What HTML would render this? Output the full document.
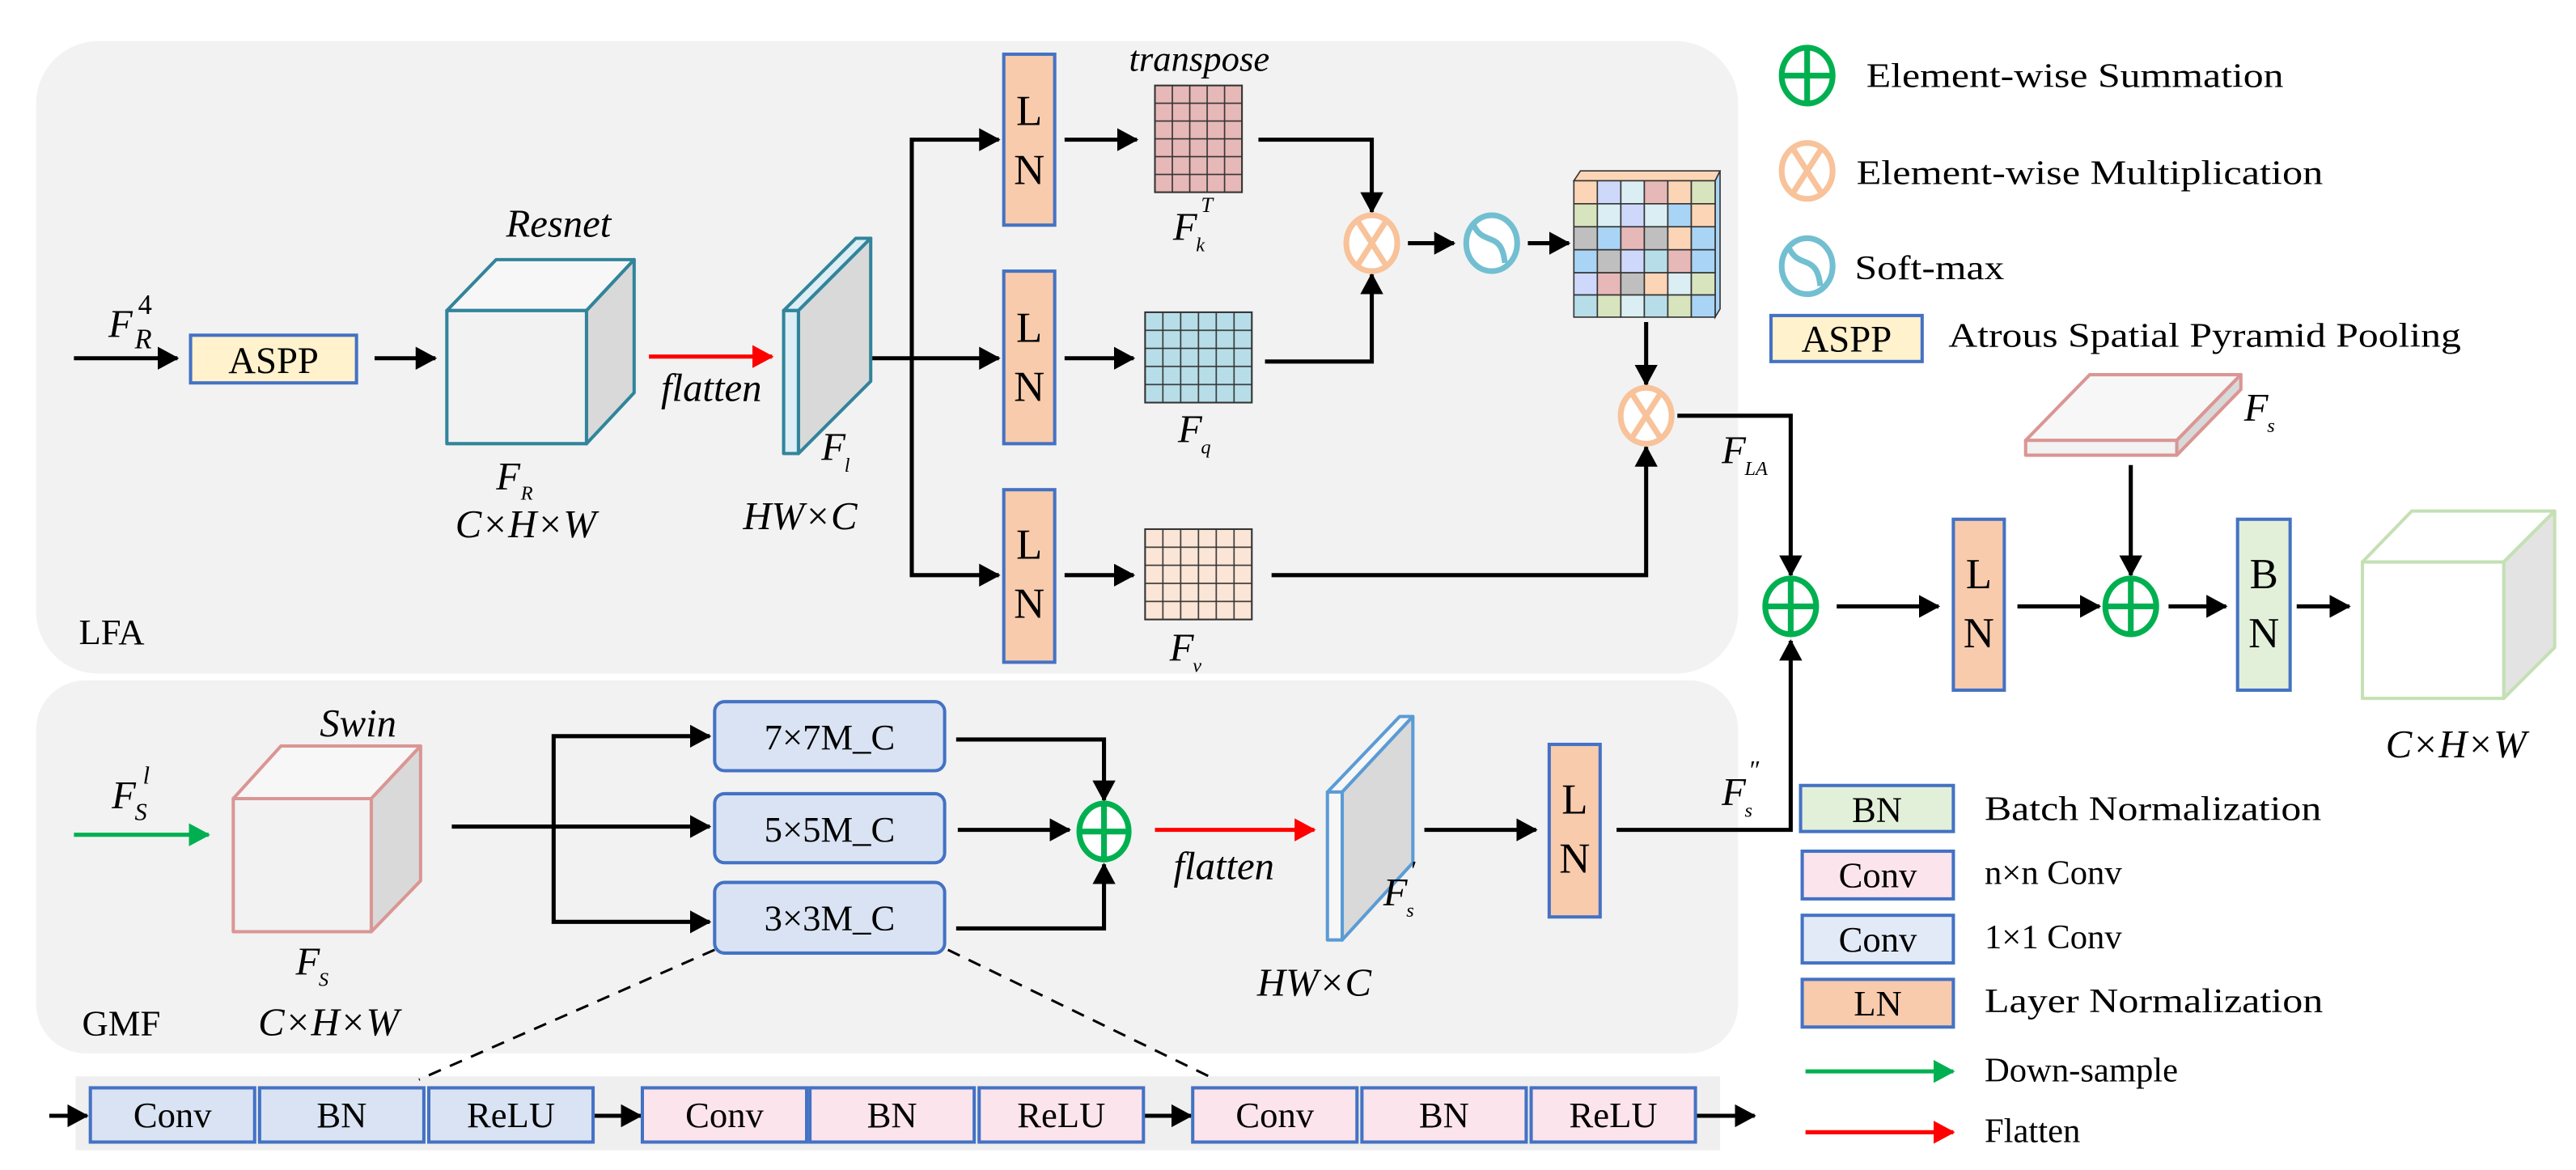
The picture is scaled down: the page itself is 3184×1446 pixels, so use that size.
<!DOCTYPE html>
<html><head><meta charset="utf-8"><style>
html,body{margin:0;padding:0;background:#fff;}
svg{display:block;}
text{font-family:"Liberation Serif","DejaVu Serif",serif;fill:#000;}
.it{font-style:italic;}
</style></head><body>
<svg width="3184" height="1446" viewBox="0 0 1568 712" preserveAspectRatio="none" xmlns="http://www.w3.org/2000/svg">
<defs>
<marker id="ab" markerUnits="userSpaceOnUse" markerWidth="14" markerHeight="14" refX="12" refY="7" orient="auto"><path d="M0,0 L13,7 L0,14 z" fill="#000"/></marker>
<marker id="ar" markerUnits="userSpaceOnUse" markerWidth="14" markerHeight="14" refX="12" refY="7" orient="auto"><path d="M0,0 L13,7 L0,14 z" fill="#ff0000"/></marker>
<marker id="ag" markerUnits="userSpaceOnUse" markerWidth="14" markerHeight="14" refX="12" refY="7" orient="auto"><path d="M0,0 L13,7 L0,14 z" fill="#00b050"/></marker>
<pattern id="gk" patternUnits="userSpaceOnUse" x="703" y="52" width="10.6" height="10.83"><rect width="10.6" height="10.83" fill="#e6b8b7" stroke="#333" stroke-width="0.8"/></pattern>
<pattern id="gq" patternUnits="userSpaceOnUse" x="697" y="190" width="10.83" height="11"><rect width="10.83" height="11" fill="#b7dee8" stroke="#333" stroke-width="0.8"/></pattern>
<pattern id="gv" patternUnits="userSpaceOnUse" x="697" y="322" width="10.83" height="11"><rect width="10.83" height="11" fill="#fbe5d6" stroke="#333" stroke-width="0.8"/></pattern>
</defs>

<rect x="22" y="25" width="1036" height="385" rx="38" fill="#f2f2f2"/>
<rect x="22" y="414" width="1036" height="227" rx="30" fill="#f2f2f2"/>
<rect x="46" y="655" width="1001" height="45" fill="#efefef"/>

<g stroke="#000" stroke-width="2.5" fill="none">
<line x1="45" y1="218" x2="108" y2="218" marker-end="url(#ab)"/>
<line x1="228" y1="218" x2="265" y2="218" marker-end="url(#ab)"/>
<line x1="512" y1="218" x2="608" y2="218" marker-end="url(#ab)"/>
<polyline points="555,218 555,85 608,85" marker-end="url(#ab)"/>
<polyline points="555,218 555,350 608,350" marker-end="url(#ab)"/>
<line x1="648" y1="85" x2="692" y2="85" marker-end="url(#ab)"/>
<line x1="648" y1="218" x2="690" y2="218" marker-end="url(#ab)"/>
<line x1="648" y1="350" x2="690" y2="350" marker-end="url(#ab)"/>
<polyline points="766,85 835,85 835,129" marker-end="url(#ab)"/>
<polyline points="770,220 835,220 835,167" marker-end="url(#ab)"/>
<line x1="857" y1="148" x2="885" y2="148" marker-end="url(#ab)"/>
<line x1="930" y1="148" x2="955" y2="148" marker-end="url(#ab)"/>
<line x1="1002" y1="196" x2="1002" y2="234" marker-end="url(#ab)"/>
<polyline points="774,350 1002,350 1002,272" marker-end="url(#ab)"/>
<polyline points="1021,253 1090,253 1090,350" marker-end="url(#ab)"/>
<line x1="1118" y1="369" x2="1180" y2="369" marker-end="url(#ab)"/>
<line x1="1228" y1="369" x2="1278" y2="369" marker-end="url(#ab)"/>
<line x1="1297" y1="283" x2="1297" y2="350" marker-end="url(#ab)"/>
<line x1="1320" y1="369" x2="1355" y2="369" marker-end="url(#ab)"/>
<line x1="1398" y1="369" x2="1430" y2="369" marker-end="url(#ab)"/>
<polyline points="984,505 1090,505 1090,390" marker-end="url(#ab)"/>
<line x1="275" y1="503" x2="432" y2="503" marker-end="url(#ab)"/>
<polyline points="337,503 337,448 432,448" marker-end="url(#ab)"/>
<polyline points="337,503 337,561 432,561" marker-end="url(#ab)"/>
<polyline points="582,450 672,450 672,487" marker-end="url(#ab)"/>
<line x1="583" y1="505" x2="651" y2="505" marker-end="url(#ab)"/>
<polyline points="582,565 672,565 672,526" marker-end="url(#ab)"/>
<line x1="867" y1="505" x2="935" y2="505" marker-end="url(#ab)"/>
<line x1="30" y1="679" x2="53" y2="679" marker-end="url(#ab)"/>
<line x1="361" y1="679" x2="390" y2="679" marker-end="url(#ab)"/>
<line x1="696" y1="679" x2="725" y2="679" marker-end="url(#ab)"/>
<line x1="1032" y1="679" x2="1068" y2="679" marker-end="url(#ab)"/>
</g>
<line x1="395" y1="217" x2="470" y2="217" stroke="#ff0000" stroke-width="2.5" marker-end="url(#ar)"/>
<line x1="703" y1="505" x2="800" y2="505" stroke="#ff0000" stroke-width="2.5" marker-end="url(#ar)"/>
<line x1="45" y1="508" x2="127" y2="508" stroke="#00b050" stroke-width="2.5" marker-end="url(#ag)"/>
<line x1="1099" y1="652" x2="1189" y2="652" stroke="#00b050" stroke-width="2.5" marker-end="url(#ag)"/>
<line x1="1099" y1="689" x2="1189" y2="689" stroke="#ff0000" stroke-width="2.5" marker-end="url(#ar)"/>
<line x1="435" y1="578" x2="255" y2="657" stroke="#000" stroke-width="1.5" stroke-dasharray="8,6"/>
<line x1="577" y1="578" x2="740" y2="657" stroke="#000" stroke-width="1.5" stroke-dasharray="8,6"/>

<rect x="116" y="204" width="101" height="29" fill="#fff2cc" stroke="#4472c4" stroke-width="2"/>
<text x="166.5" y="227" font-size="23" text-anchor="middle">ASPP</text>
<text x="66" y="205" font-size="24" class="it">F</text><text x="82" y="212" font-size="17" class="it">R</text><text x="84" y="191" font-size="17">4</text>

<g stroke="#31849b" stroke-width="2" stroke-linejoin="round">
<polygon points="272,189 302,158 386,158 357,189" fill="#f7f7f7"/>
<polygon points="357,189 386,158 386,239 357,270" fill="#d9d9d9"/>
<rect x="272" y="189" width="85" height="81" fill="#f2f2f2"/>
</g>
<text x="340" y="144" font-size="24" class="it" text-anchor="middle">Resnet</text>
<text x="302" y="298" font-size="24" class="it">F</text><text x="317" y="304" font-size="12" class="it">R</text>
<text x="320" y="327" font-size="24" class="it" text-anchor="middle">C×H×W</text>
<text x="433" y="244" font-size="24" class="it" text-anchor="middle">flatten</text>

<g stroke="#31849b" stroke-width="2" stroke-linejoin="round">
<polygon points="477,189 521,145 530,145 486,189" fill="#ddeef5"/>
<polygon points="486,189 530,145 530,232 486,276" fill="#d9d9d9"/>
<rect x="477" y="189" width="9" height="87" fill="#ddeef5"/>
</g>
<text x="500" y="280" font-size="24" class="it">F</text><text x="514" y="287" font-size="12" class="it">l</text>
<text x="487" y="322" font-size="24" class="it" text-anchor="middle">HW×C</text>

<g fill="#f8cbad" stroke="#4472c4" stroke-width="2">
<rect x="611" y="33" width="31" height="104"/>
<rect x="611" y="165" width="31" height="105"/>
<rect x="611" y="298" width="31" height="105"/>
<rect x="1189" y="316" width="31" height="104"/>
<rect x="943" y="453" width="31" height="105"/>
</g>
<rect x="1362" y="316" width="32" height="104" fill="#e2f0d9" stroke="#4472c4" stroke-width="2"/>
<g font-size="26" text-anchor="middle">
<text x="626.5" y="76">L</text><text x="626.5" y="112">N</text>
<text x="626.5" y="208">L</text><text x="626.5" y="244">N</text>
<text x="626.5" y="340">L</text><text x="626.5" y="376">N</text>
<text x="1204.5" y="358">L</text><text x="1204.5" y="394">N</text>
<text x="1378" y="358">B</text><text x="1378" y="394">N</text>
<text x="958.5" y="495">L</text><text x="958.5" y="531">N</text>
</g>

<rect x="703" y="52" width="53" height="65" fill="url(#gk)" stroke="#333" stroke-width="1"/>
<rect x="697" y="190" width="65" height="55" fill="url(#gq)" stroke="#333" stroke-width="1"/>
<rect x="697" y="322" width="65" height="55" fill="url(#gv)" stroke="#333" stroke-width="1"/>
<text x="730" y="43" font-size="22" class="it" text-anchor="middle">transpose</text>
<text x="714" y="146" font-size="24" class="it">F</text><text x="728" y="153" font-size="12" class="it">k</text><text x="731" y="129" font-size="13" class="it">T</text>
<text x="717" y="269" font-size="24" class="it">F</text><text x="731" y="276" font-size="12" class="it">q</text>
<text x="712" y="402" font-size="24" class="it">F</text><text x="726" y="409" font-size="12" class="it">v</text>

<g stroke="#333" stroke-width="0.8">
<polygon points="958,110 962,104 1047,104 1044,110" fill="#fbd5b5"/>
<polygon points="1044,110 1047,104 1047,188 1044,193" fill="#a9d4f5"/>
<rect x="958" y="110" width="14.3" height="14" fill="#fbd5b5"/><rect x="972.3" y="110" width="14.3" height="14" fill="#cdd8fb"/><rect x="986.6" y="110" width="14.3" height="14" fill="#daeef3"/><rect x="1000.9" y="110" width="14.3" height="14" fill="#e6b8b7"/><rect x="1015.2" y="110" width="14.3" height="14" fill="#fbd5b5"/><rect x="1029.5" y="110" width="14.5" height="14" fill="#d7e4bd"/>
<rect x="958" y="124" width="14.3" height="14" fill="#d7e4bd"/><rect x="972.3" y="124" width="14.3" height="14" fill="#daeef3"/><rect x="986.6" y="124" width="14.3" height="14" fill="#cdd8fb"/><rect x="1000.9" y="124" width="14.3" height="14" fill="#daeef3"/><rect x="1015.2" y="124" width="14.3" height="14" fill="#a9d4f5"/><rect x="1029.5" y="124" width="14.5" height="14" fill="#fbd5b5"/>
<rect x="958" y="138" width="14.3" height="14" fill="#bfbfbf"/><rect x="972.3" y="138" width="14.3" height="14" fill="#a9d4f5"/><rect x="986.6" y="138" width="14.3" height="14" fill="#e6b8b7"/><rect x="1000.9" y="138" width="14.3" height="14" fill="#bfbfbf"/><rect x="1015.2" y="138" width="14.3" height="14" fill="#fbd5b5"/><rect x="1029.5" y="138" width="14.5" height="14" fill="#a9d4f5"/>
<rect x="958" y="152" width="14.3" height="14" fill="#a9d4f5"/><rect x="972.3" y="152" width="14.3" height="14" fill="#bfbfbf"/><rect x="986.6" y="152" width="14.3" height="14" fill="#cdd8fb"/><rect x="1000.9" y="152" width="14.3" height="14" fill="#b7dee8"/><rect x="1015.2" y="152" width="14.3" height="14" fill="#e6b8b7"/><rect x="1029.5" y="152" width="14.5" height="14" fill="#a9d4f5"/>
<rect x="958" y="166" width="14.3" height="13.5" fill="#cdd8fb"/><rect x="972.3" y="166" width="14.3" height="13.5" fill="#e6b8b7"/><rect x="986.6" y="166" width="14.3" height="13.5" fill="#bfbfbf"/><rect x="1000.9" y="166" width="14.3" height="13.5" fill="#fbd5b5"/><rect x="1015.2" y="166" width="14.3" height="13.5" fill="#daeef3"/><rect x="1029.5" y="166" width="14.5" height="13.5" fill="#d7e4bd"/>
<rect x="958" y="179.5" width="14.3" height="13.5" fill="#b7dee8"/><rect x="972.3" y="179.5" width="14.3" height="13.5" fill="#d7e4bd"/><rect x="986.6" y="179.5" width="14.3" height="13.5" fill="#daeef3"/><rect x="1000.9" y="179.5" width="14.3" height="13.5" fill="#b7dee8"/><rect x="1015.2" y="179.5" width="14.3" height="13.5" fill="#d7e4bd"/><rect x="1029.5" y="179.5" width="14.5" height="13.5" fill="#a9d4f5"/>
</g>

<g stroke-width="3.5" fill="#fff">
<g stroke="#f8c29a">
<ellipse cx="835" cy="148" rx="15.5" ry="17"/><line x1="826" y1="134" x2="844" y2="162"/><line x1="844" y1="134" x2="826" y2="162"/>
<ellipse cx="1002" cy="253" rx="15.5" ry="17"/><line x1="993" y1="239" x2="1011" y2="267"/><line x1="1011" y1="239" x2="993" y2="267"/>
<ellipse cx="1100" cy="104" rx="15.5" ry="17"/><line x1="1091" y1="90" x2="1109" y2="118"/><line x1="1109" y1="90" x2="1091" y2="118"/>
</g>
<g stroke="#72bfd1">
<ellipse cx="908" cy="148" rx="15.5" ry="17"/><path d="M897,137 C903,150 914,140 916,160" fill="none"/>
<ellipse cx="1100" cy="162" rx="15.5" ry="17"/><path d="M1089,151 C1095,164 1106,154 1108,174" fill="none"/>
</g>
<g stroke="#00b050">
<ellipse cx="1090" cy="369" rx="15.5" ry="17"/><line x1="1090" y1="352" x2="1090" y2="386"/><line x1="1074.5" y1="369" x2="1105.5" y2="369"/>
<ellipse cx="1297" cy="369" rx="15.5" ry="17"/><line x1="1297" y1="352" x2="1297" y2="386"/><line x1="1281.5" y1="369" x2="1312.5" y2="369"/>
<ellipse cx="672" cy="506" rx="15" ry="17"/><line x1="672" y1="489" x2="672" y2="523"/><line x1="657" y1="506" x2="687" y2="506"/>
<ellipse cx="1100" cy="46" rx="15.5" ry="17"/><line x1="1100" y1="29" x2="1100" y2="63"/><line x1="1084.5" y1="46" x2="1115.5" y2="46"/>
</g>
</g>

<text x="1048" y="282" font-size="24" class="it">F</text><text x="1062" y="289" font-size="12" class="it">LA</text>

<g stroke="#da9694" stroke-width="2" stroke-linejoin="round">
<polygon points="1233,268 1272,228 1364,228 1325,268" fill="#f7f7f7"/>
<polygon points="1325,268 1364,228 1364,237 1325,277" fill="#d9d9d9"/>
<rect x="1233" y="268" width="92" height="9" fill="#f2f2f2"/>
</g>
<text x="1366" y="256" font-size="24" class="it">F</text><text x="1380" y="263" font-size="12" class="it">s</text>

<g stroke="#c5e0b4" stroke-width="2" stroke-linejoin="round">
<polygon points="1438,342 1468,311 1555,311 1524,342" fill="#fff"/>
<polygon points="1524,342 1555,311 1555,394 1524,425" fill="#e3e3e3"/>
<rect x="1438" y="342" width="86" height="83" fill="#fff"/>
</g>
<text x="1495" y="461" font-size="24" class="it" text-anchor="middle">C×H×W</text>

<g font-size="21">
<text x="1136" y="53" textLength="254" lengthAdjust="spacingAndGlyphs">Element-wise Summation</text>
<text x="1130" y="112" textLength="284" lengthAdjust="spacingAndGlyphs">Element-wise Multiplication</text>
<text x="1129" y="170" textLength="91" lengthAdjust="spacingAndGlyphs">Soft-max</text>
<text x="1186" y="211" textLength="312" lengthAdjust="spacingAndGlyphs">Atrous Spatial Pyramid Pooling</text>
<text x="1208" y="499" textLength="205" lengthAdjust="spacingAndGlyphs">Batch Normalization</text>
<text x="1208" y="538">n×n Conv</text>
<text x="1208" y="577">1×1 Conv</text>
<text x="1208" y="616" textLength="206" lengthAdjust="spacingAndGlyphs">Layer Normalization</text>
<text x="1208" y="658">Down-sample</text>
<text x="1208" y="695">Flatten</text>
</g>
<rect x="1078" y="192" width="92" height="28" fill="#fff2cc" stroke="#4472c4" stroke-width="2"/>
<text x="1124" y="214" font-size="23" text-anchor="middle">ASPP</text>
<rect x="1096" y="478" width="93" height="28" fill="#e2f0d9" stroke="#4472c4" stroke-width="2"/>
<text x="1142.5" y="500" font-size="22" text-anchor="middle">BN</text>
<rect x="1097" y="518" width="92" height="29" fill="#fce4ec" stroke="#4472c4" stroke-width="2"/>
<text x="1143" y="540" font-size="22" text-anchor="middle">Conv</text>
<rect x="1097" y="557" width="92" height="29" fill="#e3eaf7" stroke="#4472c4" stroke-width="2"/>
<text x="1143" y="579" font-size="22" text-anchor="middle">Conv</text>
<rect x="1097" y="596" width="92" height="29" fill="#f8cbad" stroke="#4472c4" stroke-width="2"/>
<text x="1143" y="618" font-size="22" text-anchor="middle">LN</text>

<text x="48" y="392" font-size="22">LFA</text>

<text x="68" y="492" font-size="24" class="it">F</text><text x="82" y="499" font-size="15" class="it">S</text><text x="87" y="477" font-size="15" class="it">l</text>
<g stroke="#da9694" stroke-width="2" stroke-linejoin="round">
<polygon points="142,486 171,454 256,454 226,486" fill="#f7f7f7"/>
<polygon points="226,486 256,454 256,536 226,567" fill="#d9d9d9"/>
<rect x="142" y="486" width="84" height="81" fill="#f2f2f2"/>
</g>
<text x="218" y="448" font-size="24" class="it" text-anchor="middle">Swin</text>
<text x="180" y="593" font-size="24" class="it">F</text><text x="194" y="600" font-size="12" class="it">S</text>
<text x="50" y="630" font-size="22">GMF</text>
<text x="200" y="630" font-size="24" class="it" text-anchor="middle">C×H×W</text>

<g fill="#dae3f3" stroke="#4472c4" stroke-width="2">
<rect x="435" y="427" width="140" height="42" rx="6"/>
<rect x="435" y="483" width="140" height="42" rx="6"/>
<rect x="435" y="537" width="140" height="43" rx="6"/>
</g>
<g font-size="22" text-anchor="middle">
<text x="505" y="456">7×7M_C</text>
<text x="505" y="512">5×5M_C</text>
<text x="505" y="566">3×3M_C</text>
</g>
<text x="745" y="535" font-size="24" class="it" text-anchor="middle">flatten</text>

<g stroke="#5b9bd5" stroke-width="2" stroke-linejoin="round">
<polygon points="808,482 852,436 860,436 817,482" fill="#f7f7f7"/>
<polygon points="817,482 860,436 860,525 817,572" fill="#d9d9d9"/>
<rect x="808" y="482" width="9" height="90" fill="#f7f7f7"/>
</g>
<text x="842" y="551" font-size="24" class="it">F</text><text x="856" y="558" font-size="12" class="it">s</text><text x="858" y="535" font-size="16" class="it">′</text>
<text x="800" y="606" font-size="24" class="it" text-anchor="middle">HW×C</text>
<text x="1048" y="490" font-size="24" class="it">F</text><text x="1062" y="497" font-size="12" class="it">s</text><text x="1064" y="474" font-size="16" class="it">″</text>

<g stroke="#4472c4" stroke-width="2">
<rect x="55" y="662" width="100" height="33" fill="#dae3f3"/>
<rect x="158" y="662" width="100" height="33" fill="#dae3f3"/>
<rect x="261" y="662" width="100" height="33" fill="#dae3f3"/>
<rect x="391" y="662" width="100" height="33" fill="#fce4ec"/>
<rect x="493" y="662" width="100" height="33" fill="#fce4ec"/>
<rect x="596" y="662" width="100" height="33" fill="#fce4ec"/>
<rect x="726" y="662" width="100" height="33" fill="#fce4ec"/>
<rect x="829" y="662" width="100" height="33" fill="#fce4ec"/>
<rect x="932" y="662" width="100" height="33" fill="#fce4ec"/>
</g>
<g font-size="22" text-anchor="middle">
<text x="105" y="686">Conv</text><text x="208" y="686">BN</text><text x="311" y="686">ReLU</text>
<text x="441" y="686">Conv</text><text x="543" y="686">BN</text><text x="646" y="686">ReLU</text>
<text x="776" y="686">Conv</text><text x="879" y="686">BN</text><text x="982" y="686">ReLU</text>
</g>
</svg>
</body></html>
